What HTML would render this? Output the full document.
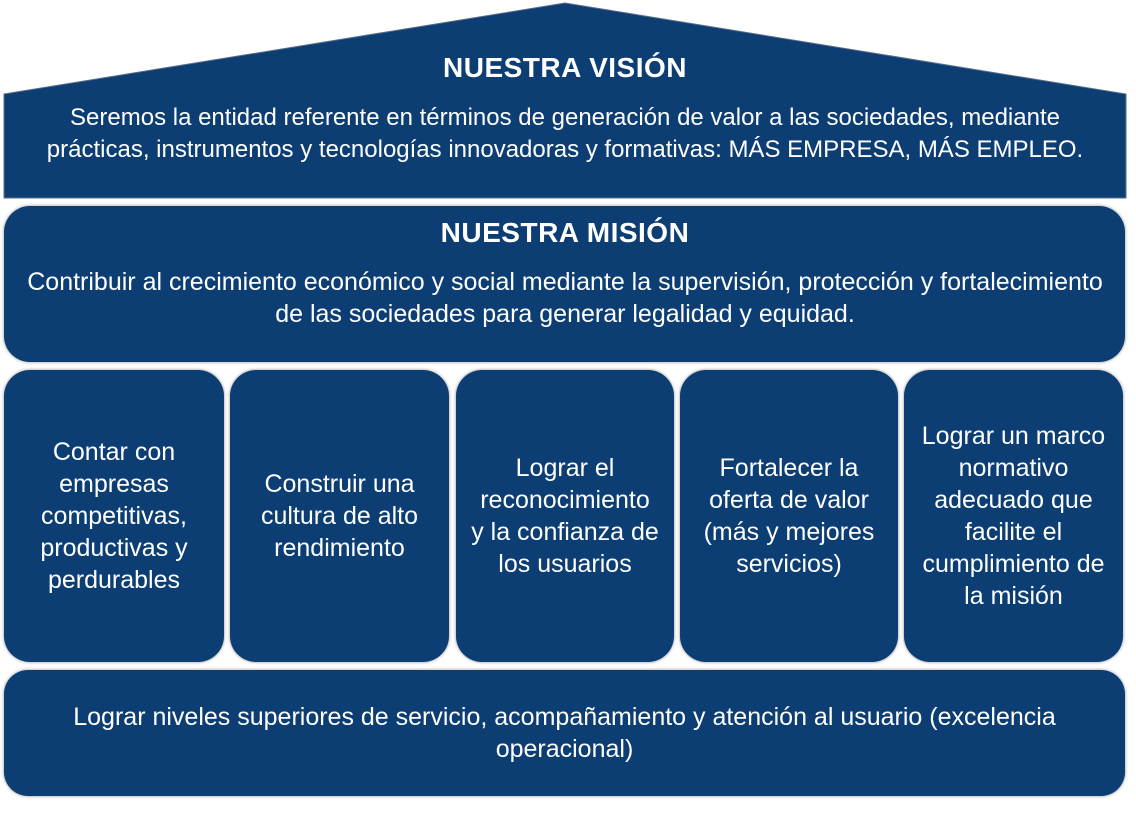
<!DOCTYPE html>
<html><head><meta charset="utf-8"><style>
body{margin:0;width:1136px;height:818px;background:#fff;position:relative;font-family:"Liberation Sans",Arial,sans-serif;color:#fff;overflow:hidden}
.b{position:absolute;background:#0c3e74;box-shadow:0 0 3px rgba(0,0,0,.45);display:flex;align-items:center;justify-content:center;text-align:center;font-size:25px;line-height:32px}
.p{top:370px;height:292px;border-radius:26px}
.t{position:absolute;left:0;width:1130px;text-align:center;font-size:25px;line-height:32px;white-space:nowrap}
h{font-weight:bold;font-size:28px;letter-spacing:0.5px;display:block}
</style></head><body>
<svg style="position:absolute;left:0;top:0" width="1136" height="210"><polygon points="4,94 565,3 1126,94 1126,198 4,198" fill="#0c3e74" stroke="#5a6f88" stroke-width="1"/></svg>
<div class="t" style="top:52px"><h>NUESTRA VISIÓN</h></div>
<div class="t" style="top:102px;font-size:24px">Seremos la entidad referente en términos de generación de valor a las sociedades, mediante<br>prácticas, instrumentos y tecnologías innovadoras y formativas: MÁS EMPRESA, MÁS EMPLEO.</div>
<div class="b" style="left:4px;top:206px;width:1121px;height:156px;border-radius:26px"></div>
<div class="t" style="top:217px"><h>NUESTRA MISIÓN</h></div>
<div class="t" style="top:266px">Contribuir al crecimiento económico y social mediante la supervisión, protección y fortalecimiento<br>de las sociedades para generar legalidad y equidad.</div>
<div class="b p" style="left:4px;width:220px">Contar con<br>empresas<br>competitivas,<br>productivas y<br>perdurables</div>
<div class="b p" style="left:230px;width:219px">Construir una<br>cultura de alto<br>rendimiento</div>
<div class="b p" style="left:456px;width:218px">Lograr el<br>reconocimiento<br>y la confianza de<br>los usuarios</div>
<div class="b p" style="left:680px;width:218px">Fortalecer la<br>oferta de valor<br>(más y mejores<br>servicios)</div>
<div class="b p" style="left:904px;width:219px">Lograr un marco<br>normativo<br>adecuado que<br>facilite el<br>cumplimiento de<br>la misión</div>
<div class="b" style="left:4px;top:670px;width:1121px;height:126px;border-radius:24px">Lograr niveles superiores de servicio, acompañamiento y atención al usuario (excelencia<br>operacional)</div>
</body></html>
